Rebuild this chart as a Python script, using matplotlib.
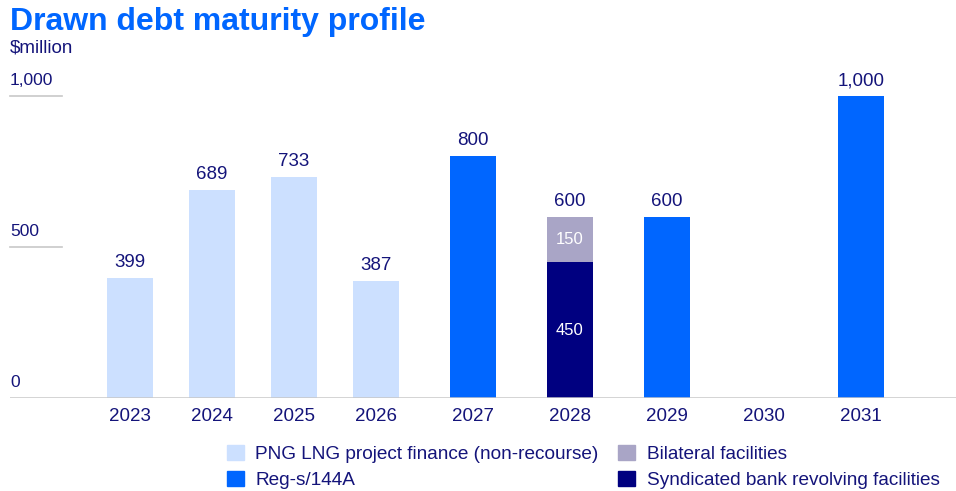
import numpy as np
import matplotlib.pyplot as plt
from matplotlib.patches import Patch
from matplotlib.transforms import blended_transform_factory

plt.rcParams['font.family'] = ['Liberation Sans', 'DejaVu Sans']

# Data
years = ['2023', '2024', '2025', '2026', '2027', '2028', '2029', '2030', '2031']
png_lng = [399, 689, 733, 387, 0, 0, 0, 0, 0]
reg_s = [0, 0, 0, 0, 800, 0, 600, 0, 1000]
syndicated = [0, 0, 0, 0, 0, 450, 0, 0, 0]
bilateral = [0, 0, 0, 0, 0, 150, 0, 0, 0]
yticks = [0, 500, 1000]
ytick_labels = ['0', '500', '1,000']

c_light = '#CCE0FF'
c_blue = '#0066FF'
c_grey = '#A9A5C6'
c_navy = '#000080'
c_text = '#14147A'

W, H = 956, 491
fig = plt.figure(figsize=(W / 100, H / 100), dpi=100)
ax = fig.add_axes([10 / W, (H - 398) / H, (W - 10) / W, 302 / H])

# bar centres in pixel units (first four years spaced tighter)
idx = np.arange(len(years))
x = 130 + np.where(idx <= 3, idx * 82, 3 * 82 + (idx - 3) * 97)
bw = 46

png_lng = np.array(png_lng)
reg_s = np.array(reg_s)
syndicated = np.array(syndicated)
bilateral = np.array(bilateral)

ax.bar(x, png_lng, bw, color=c_light)
ax.bar(x, reg_s, bw, color=c_blue)
ax.bar(x, syndicated, bw, color=c_navy)
ax.bar(x, bilateral, bw, bottom=syndicated, color=c_grey)

totals = png_lng + reg_s + syndicated + bilateral
for xi, t in zip(x, totals):
    if t > 0:
        ax.annotate(f'{int(t):,}', (xi, t), xytext=(0, 5), textcoords='offset points',
                    ha='center', va='bottom', fontsize=13.5, color=c_text,
                    annotation_clip=False)
for xi, s, b in zip(x, syndicated, bilateral):
    if s > 0:
        ax.text(xi, s / 2, f'{s}', ha='center', va='center', fontsize=12, color='white')
    if b > 0:
        ax.text(xi, s + b / 2, f'{b}', ha='center', va='center', fontsize=12, color='white')

ax.set_xlim(10, W)
ax.set_ylim(0, 1000)
ax.set_xticks(x)
ax.set_xticklabels(years, fontsize=13.5, color=c_text)
ax.tick_params(axis='x', length=0, pad=7)
ax.set_yticks([])
for s in ax.spines.values():
    s.set_visible(False)

# short gridlines with labels above them
tr = blended_transform_factory(ax.transAxes, ax.transData)
for v, lab in zip(yticks, ytick_labels):
    if v > 0:
        ax.plot([0, 52 / (W - 10)], [v, v], transform=tr, color='#C8C8C8', lw=1.2, clip_on=False)
    ax.annotate(lab, (0, v), xycoords=tr, xytext=(0, 6),
                textcoords='offset points', ha='left', va='bottom',
                fontsize=12.5, color=c_text, annotation_clip=False)
ax.axhline(0, color='#C8C8C8', lw=1.8)

fig.text(10 / W, 1 - 7 / H, 'Drawn debt maturity profile', ha='left', va='top',
         fontsize=23, fontweight='bold', color=c_blue)
fig.text(10 / W, 1 - 39 / H, '$million', ha='left', va='top', fontsize=13.5, color=c_text)

handles = [Patch(color=c_light, label='PNG LNG project finance (non-recourse)'),
           Patch(color=c_blue, label='Reg-s/144A'),
           Patch(color=c_grey, label='Bilateral facilities'),
           Patch(color=c_navy, label='Syndicated bank revolving facilities')]
leg = fig.legend(handles=handles, ncol=2, loc='upper left', bbox_to_anchor=(227 / W, 1 - 445 / H),
                 frameon=False, fontsize=13.7, handlelength=0.88, handleheight=0.84,
                 handletextpad=0.6, columnspacing=1.05, labelspacing=0.42,
                 borderpad=0, borderaxespad=0)
for t in leg.get_texts():
    t.set_color(c_text)

fig.savefig('out.png', dpi=100)
